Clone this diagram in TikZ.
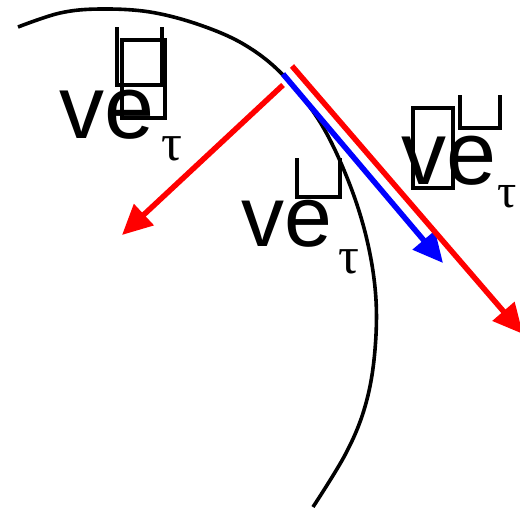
\documentclass[tikz,border=0pt]{standalone}
\usepackage{fontspec}
\setmainfont{Liberation Sans}
\newfontfamily\taufont{Liberation Serif}
\usetikzlibrary{arrows.meta}
\begin{document}
\begin{tikzpicture}[x=1pt,y=-1pt,
  vec/.style={line width=5.5pt,-{Triangle[length=30pt,width=28pt]}},
  lab/.style={inner sep=0pt,anchor=base west,font=\fontsize{90}{90}\selectfont},
  sub/.style={inner sep=0pt,anchor=base west,font=\taufont\fontsize{52}{52}\selectfont},
  tofu/.style={line width=4.5pt}]
\useasboundingbox (0,0) rectangle (520,512);
% curve
\draw[line width=3.6pt] plot[smooth,tension=0.6] coordinates {(18,27) (60,13) (100,9) (150,12) (200,25) (245,45) (283,75) (320,122) (348,180) (367,240) (376,300) (374,360) (364,410) (345,455) (313,507)};
% arrows
\coordinate (r1s) at (283,85);
\coordinate (r1e) at (122,235);
\coordinate (bs) at (283,74);
\coordinate (be) at (443,263);
\coordinate (r2s) at (292,66);
\coordinate (r2e) at (523,334);
\draw[vec,red] (r1s) -- (r1e);
\draw[vec,blue] (bs) -- (be);
\draw[vec,red] (r2s) -- (r2e);
% label 1
\node[lab] (l1) at (59,138) {ve};
\node[sub] (t1) at (161,160) {τ};
\draw[tofu] (117,27) -- (117,85) -- (162,85) -- (162,27);
\draw[tofu] (122,40) rectangle (165,118);
% label 2
\node[lab,font=\fontsize{86}{86}\selectfont] (l2) at (241,246) {ve};
\node[sub] (t2) at (338,273) {τ};
\draw[tofu] (297,158) -- (297,197) -- (340,197) -- (340,158);
% label 3
\node[lab] (l3) at (401,184) {ve};
\node[sub,font=\taufont\fontsize{48}{48}\selectfont] (t3) at (497,207) {τ};
\draw[tofu] (413,108) rectangle (453,188);
\draw[tofu] (460,95) -- (460,128) -- (500,128) -- (500,95);
\end{tikzpicture}
\end{document}
